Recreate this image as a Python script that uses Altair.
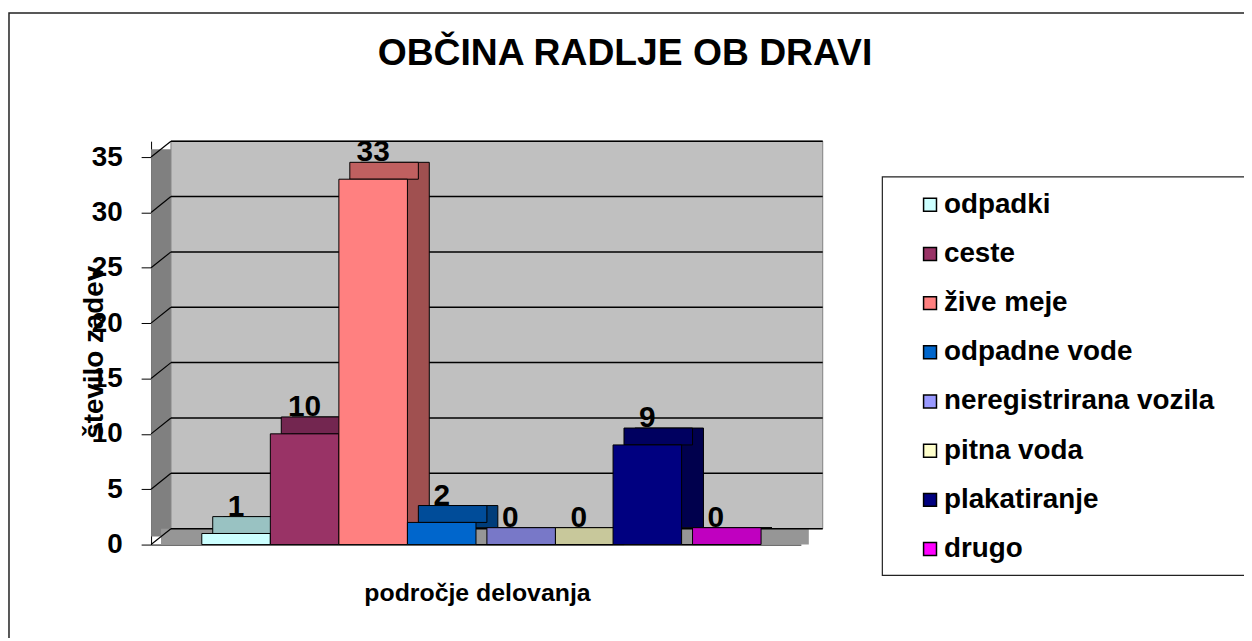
import altair as alt
import pandas as pd

# ---- data ----
SERIES = ["odpadki", "ceste", "žive meje", "odpadne vode",
          "neregistrirana vozila", "pitna voda", "plakatiranje", "drugo"]
VALUES = [1, 10, 33, 2, 0, 0, 9, 0]
Y_TICKS = [0, 5, 10, 15, 20, 25, 30, 35]
TITLE = "OBČINA RADLJE OB DRAVI"
X_TITLE = "področje delovanja"
Y_TITLE = "število zadev"

# ---- styles ----
FRONT = ["#CCFFFF", "#993366", "#FF8080", "#0066CC", "#9999FF", "#FFFFCC", "#000080", "#FF00FF"]
TOP = ["#99C2C2", "#732650", "#C06060", "#004C99", "#7878C8", "#C8C89B", "#000060", "#C000C0"]
SIDE = ["#7A9999", "#5C1F3D", "#A05050", "#003D7A", "#5C5C99", "#99997A", "#00004D", "#990099"]
FONT = "Liberation Sans"

df = pd.DataFrame({"series": SERIES, "value": VALUES})
ticks = pd.DataFrame({"tick": Y_TICKS})
one = pd.DataFrame({"k": [0]})
title_df = pd.DataFrame({"t": [TITLE]})

W, H = 676, 406
YMAX = 35 * H / 390.0
DX, DY = 22, 17

x_enc = alt.X(
    "series:N", sort=SERIES,
    scale=alt.Scale(range=[0, 654], paddingInner=0, paddingOuter=0.74),
    axis=alt.Axis(labels=False, ticks=False, domain=True, domainColor="black", domainWidth=1,
                  title=X_TITLE, titleFont=FONT, titleFontSize=25, titleFontWeight="bold",
                  titleColor="black", titleX=328, titleY=56, titleBaseline="alphabetic",
                  titleAlign="center"),
)


def y_enc(field):
    return alt.Y(
        f"{field}:Q",
        scale=alt.Scale(domain=[0, YMAX], nice=False, zero=True),
        axis=alt.Axis(values=Y_TICKS, grid=False, domainColor="black", domainWidth=1,
                      tickColor="black", tickSize=10, tickWidth=1,
                      labelFont=FONT, labelFontSize=28, labelFontWeight="bold", labelColor="black",
                      labelPadding=19,
                      title=Y_TITLE, titleFont=FONT, titleFontSize=28, titleFontWeight="bold",
                      titleColor="black", titleX=-49, titleY=212, titleAngle=270,
                      titleBaseline="alphabetic", titleAlign="center"),
    )


def deco_rect(x, x2, y, y2, **kw):
    return alt.Chart(one).mark_rect(**kw).encode(
        x=alt.value(x), x2=alt.value(x2), y=alt.value(y), y2=alt.value(y2))


border = deco_rect(-143, 1110, -129, 520, fill="transparent", stroke="#222222", strokeWidth=1.5)
back_wall = deco_rect(20, W, 0, 390, fill="#C0C0C0", stroke="#808080", strokeWidth=1)
side_wall = deco_rect(0, 20, 8, 398, fill="#808080")
floor = deco_rect(10, 662, 390, 406, fill="#969696")
legend_box = deco_rect(736, 1110, 36, 437, fill="transparent", stroke="#222222", strokeWidth=1.2)

title = alt.Chart(title_df).mark_text(
    font=FONT, fontSize=37.5, fontWeight="bold", color="black", align="center",
    baseline="alphabetic").encode(x=alt.value(477), y=alt.value(-77), text="t:N")

grid = alt.Chart(ticks).mark_rule(color="black", strokeWidth=1.5, yOffset=-16).encode(
    y=y_enc("tick"), x=alt.value(20), x2=alt.value(W))
diag = alt.Chart(ticks).mark_rule(color="black", strokeWidth=1.2, y2Offset=-16).encode(
    y=y_enc("tick"), y2=alt.Y2("tick:Q"), x=alt.value(0), x2=alt.value(20))

side = alt.Chart(df).mark_bar(stroke="black", strokeWidth=1, xOffset=DX, yOffset=-DY,
                              y2Offset=-DY).encode(
    x=x_enc, y=y_enc("value"),
    fill=alt.Fill("series:N", scale=alt.Scale(domain=SERIES, range=SIDE), legend=None))

top = alt.Chart(df).mark_bar(stroke="black", strokeWidth=1, xOffset=DX / 2, yOffset=-DY).encode(
    x=x_enc, y=y_enc("value"), y2=alt.Y2("value:Q"),
    fill=alt.Fill("series:N", scale=alt.Scale(domain=SERIES, range=TOP), legend=None))

front = alt.Chart(df).mark_bar(stroke="black", strokeWidth=1).encode(
    x=x_enc, y=y_enc("value"),
    color=alt.Color("series:N", sort=SERIES,
                    scale=alt.Scale(domain=SERIES, range=FRONT),
                    legend=alt.Legend(title=None, orient="none", legendX=736, legendY=36,
                                      padding=14, symbolType="square", symbolSize=169,
                                      symbolStrokeColor="black", symbolStrokeWidth=1.5,
                                      symbolOffset=20, labelOffset=0,
                                      labelFont=FONT, labelFontSize=28, labelFontWeight="bold",
                                      labelColor="black", rowPadding=21.5, labelLimit=400)))

labels = alt.Chart(df).mark_text(font=FONT, fontSize=30, fontWeight="bold", color="black",
                                 dy=-18, baseline="alphabetic").encode(
    x=x_enc, y=y_enc("value"), text="value:Q")

chart = alt.layer(
    border, title, back_wall, side_wall, floor, grid, diag, side, top, front, labels, legend_box
).resolve_scale(fill="independent").properties(
    width=W, height=H,
    padding={"left": 144, "top": 132, "right": 424, "bottom": 92},
    autosize=alt.AutoSizeParams(type="none"),
    background="white",
).configure_view(stroke="transparent")

chart.save("out.html", embed_options={"renderer": "svg", "actions": False})
